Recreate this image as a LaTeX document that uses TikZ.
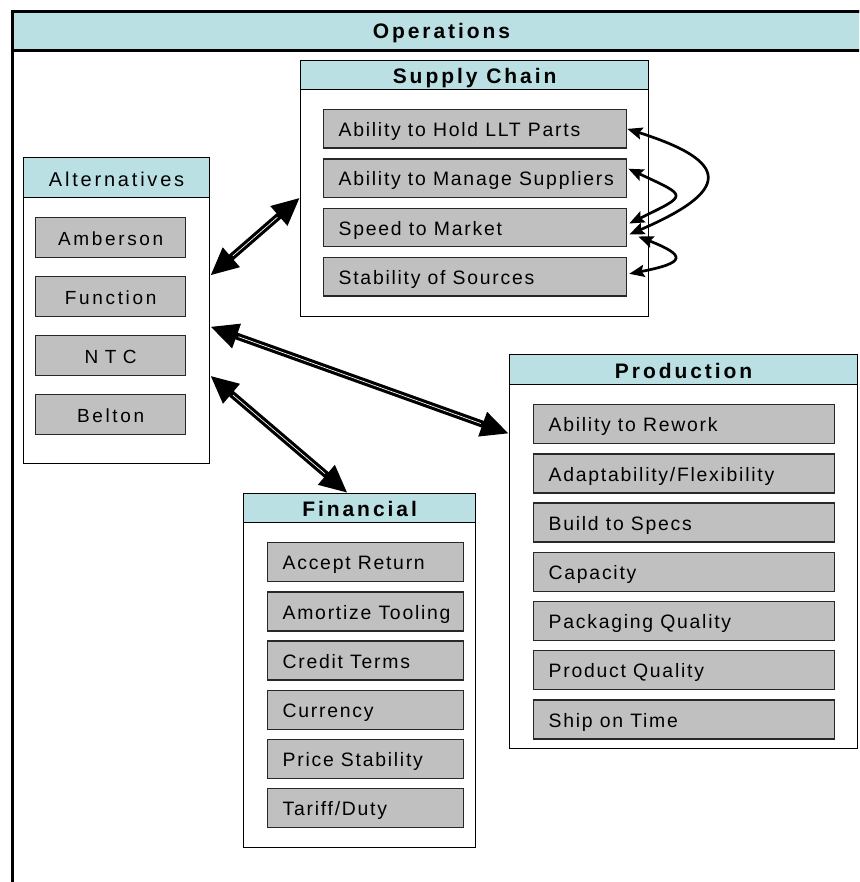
\documentclass[tikz,border=0pt]{standalone}
\usepackage{fontspec}
\setmainfont{Liberation Sans}
\newfontfamily\itemfont[LetterSpace=9]{Liberation Sans}
\newfontfamily\altfont[LetterSpace=14]{Liberation Sans}
\newfontfamily\headfont[LetterSpace=14]{Liberation Sans}
\usetikzlibrary{arrows.meta}

\definecolor{hdrteal}{RGB}{187,224,227}
\definecolor{itemgray}{RGB}{192,192,192}
\definecolor{itemedge}{RGB}{40,40,40}

\begin{document}
\begin{tikzpicture}[x=1pt,y=-1pt,
  frame/.style={draw=black, line width=1.2pt, fill=white, anchor=north west, inner sep=0pt},
  hdr/.style={draw=black, line width=1.2pt, fill=hdrteal, anchor=north west, inner sep=0pt,
    text height=22pt, text depth=4.5pt,
    font=\headfont\bfseries\fontsize{21}{24}\selectfont},
  item/.style={draw=itemedge, line width=1.3pt, fill=itemgray, anchor=north west,
    inner ysep=0pt, inner xsep=15pt, minimum height=39pt,
    text height=20.4pt, text depth=5pt,
    font=\itemfont\fontsize{19.4}{22}\selectfont,
    execute at begin node={\hbox to #1\bgroup},
    execute at end node={\hss\egroup}},
  altitem/.style={draw=itemedge, line width=1.3pt, fill=itemgray, anchor=north west,
    inner sep=0pt, minimum width=150pt, minimum height=40pt,
    text height=20pt, text depth=5pt,
    font=\altfont\fontsize{19}{22}\selectfont},
  biglink/.style={line width=7pt, {Triangle[length=28pt,width=24pt]}-{Triangle[length=28pt,width=24pt]}},
  bigcore/.style={white, line width=0.7pt, shorten <=30pt, shorten >=30pt},
  looplink/.style={line width=2.7pt, {Stealth[length=15pt,width=12pt,inset=2.5pt]}-{Stealth[length=15pt,width=12pt,inset=2.5pt]}}
]
\useasboundingbox (0,0) rectangle (859,882);
\begin{scope}
\clip (0,0) rectangle (859,882);

% outer Operations frame, running past the right and bottom edges
\node[draw, line width=3pt, fill=white, anchor=north west, inner sep=0pt,
  minimum width=880pt, minimum height=900pt] (ops) at (11,10.5) {};
\node[draw, line width=3pt, fill=hdrteal, anchor=north west, inner sep=0pt,
  minimum width=858pt, minimum height=39pt, text height=19pt, text depth=4.5pt,
  font=\headfont\bfseries\fontsize{21}{24}\selectfont] (opshd) at (11,10.5) {Operations};

% Supply Chain
\node[frame, minimum width=348pt, minimum height=256pt] (sc) at (300,60) {};
\node[hdr, minimum width=348pt, minimum height=29pt] (schd) at (300,60) {Supply Chain};
\node[item=273pt, minimum height=38.5pt] (llt)   at (323,109)   {Ability to Hold LLT Parts};
\node[item=273pt, minimum height=38.5pt] (mng)   at (323,158.3) {Ability to Manage Suppliers};
\node[item=273pt, minimum height=38.5pt] (speed) at (323,207.6) {Speed to Market};
\node[item=273pt, minimum height=38.5pt] (stab)  at (323,256.9) {Stability of Sources};

% Alternatives
\node[frame, minimum width=186pt, minimum height=306pt] (alt) at (23,157) {};
\node[hdr, font=\altfont\fontsize{20}{24}\selectfont, text height=23pt, text depth=5pt,
  minimum width=186pt, minimum height=40pt] (althd) at (23,157) {Alternatives};
\node[altitem] (amb) at (35,217) {Amberson};
\node[altitem] (fun) at (35,276) {Function};
\node[altitem, font=\altfont\fontsize{19}{22}\selectfont\addfontfeature{LetterSpace=34}] (ntc) at (35,335) {NTC};
\node[altitem] (bel) at (35,394) {Belton};

% Production
\node[frame, minimum width=348pt, minimum height=394pt] (prod) at (509,354) {};
\node[hdr, minimum width=348pt, minimum height=30pt] (prodhd) at (509,354) {Production};
\node[item=271pt] (rew)  at (533,404)   {Ability to Rework};
\node[item=271pt] (adp)  at (533,453.2) {Adaptability/Flexibility};
\node[item=271pt] (bts)  at (533,502.4) {Build to Specs};
\node[item=271pt] (cap)  at (533,551.6) {Capacity};
\node[item=271pt] (pkq)  at (533,600.8) {Packaging Quality};
\node[item=271pt] (prq)  at (533,650)   {Product Quality};
\node[item=271pt] (sot)  at (533,699.2) {Ship on Time};

% Financial
\node[frame, minimum width=232pt, minimum height=354pt] (fin) at (243,493) {};
\node[hdr, minimum width=232pt, minimum height=29pt] (finhd) at (243,493) {Financial};
\node[item=166pt] (acr) at (267,542)   {Accept Return};
\node[item=166pt] (amt) at (267,591.2) {Amortize Tooling};
\node[item=166pt] (crt) at (267,640.4) {Credit Terms};
\node[item=166pt] (cur) at (267,689.6) {Currency};
\node[item=166pt] (prs) at (267,738.8) {Price Stability};
\node[item=166pt] (tar) at (267,788)   {Tariff/Duty};

% end points of the two-way links from Alternatives
\coordinate (altA) at ([yshift=35pt]alt.east);
\coordinate (scA)  at ([yshift=-9pt]sc.west);
\coordinate (altB) at ([yshift=-16pt]alt.east);
\coordinate (prB)  at ([yshift=118pt]prod.west);
\coordinate (altC) at ([yshift=-65pt]alt.east);
\coordinate (fiC)  at ([xshift=-12pt]fin.north);

\draw[biglink] (altA) -- (scA);
\draw[bigcore] (altA) -- (scA);
\draw[biglink] (altB) -- (prB);
\draw[bigcore] (altB) -- (prB);
\draw[biglink] (altC) -- (fiC);
\draw[bigcore] (altC) -- (fiC);

% loops between the supply chain factors
\draw[looplink] (llt.east) .. controls +(104,33) and +(102,-44) .. ([xshift=2pt,yshift=-7pt]speed.east);
\draw[looplink] ([xshift=1pt,yshift=9.5pt]mng.east) .. controls +(60,28) and +(59,-29) .. ([xshift=2pt,yshift=4pt]speed.east);
\draw[looplink] ([xshift=11pt,yshift=-9pt]speed.east) .. controls +(48,19) and +(57,-11) .. ([xshift=2pt,yshift=3pt]stab.east);
\end{scope}
\end{tikzpicture}
\end{document}
